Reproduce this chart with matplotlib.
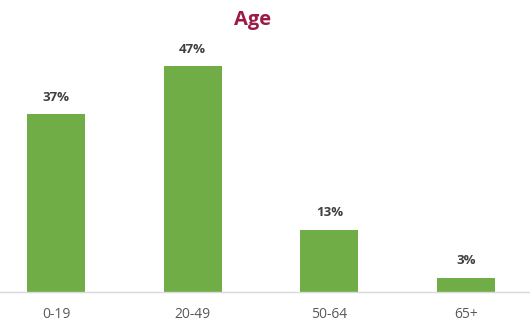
import matplotlib.pyplot as plt

categories = ['0-19', '20-49', '50-64', '65+']
values = [37, 47, 13, 3]

plt.rcParams['font.family'] = ['Open Sans', 'DejaVu Sans']

fig = plt.figure(figsize=(5.3, 3.31), dpi=100)
ax = fig.add_axes([0, 39 / 331, 1, 252 / 331])

x = range(len(categories))
ax.bar(x, values, width=0.425, color='#70AD47')
for i, v in enumerate(values):
    ax.text(i, v + 2.2, f'{v}%', ha='center', va='bottom', fontsize=9.5,
            fontweight='bold', color='#404040')

ax.set_xlim(-0.41, 3.468)
ax.set_ylim(0, 52.5)
ax.set_xticks(list(x))
ax.set_xticklabels(categories, fontsize=10, color='#595959')
ax.tick_params(axis='x', length=0, pad=11)
ax.set_yticks([])
for s in ['top', 'right', 'left']:
    ax.spines[s].set_visible(False)
ax.spines['bottom'].set_color('#D9D9D9')
ax.spines['bottom'].set_linewidth(1)

fig.text(253 / 530, 1 - 20 / 331, 'Age', ha='center', va='center',
         fontsize=14.5, fontweight='bold', color='#9B1B45')

fig.savefig('out.png', dpi=100)
